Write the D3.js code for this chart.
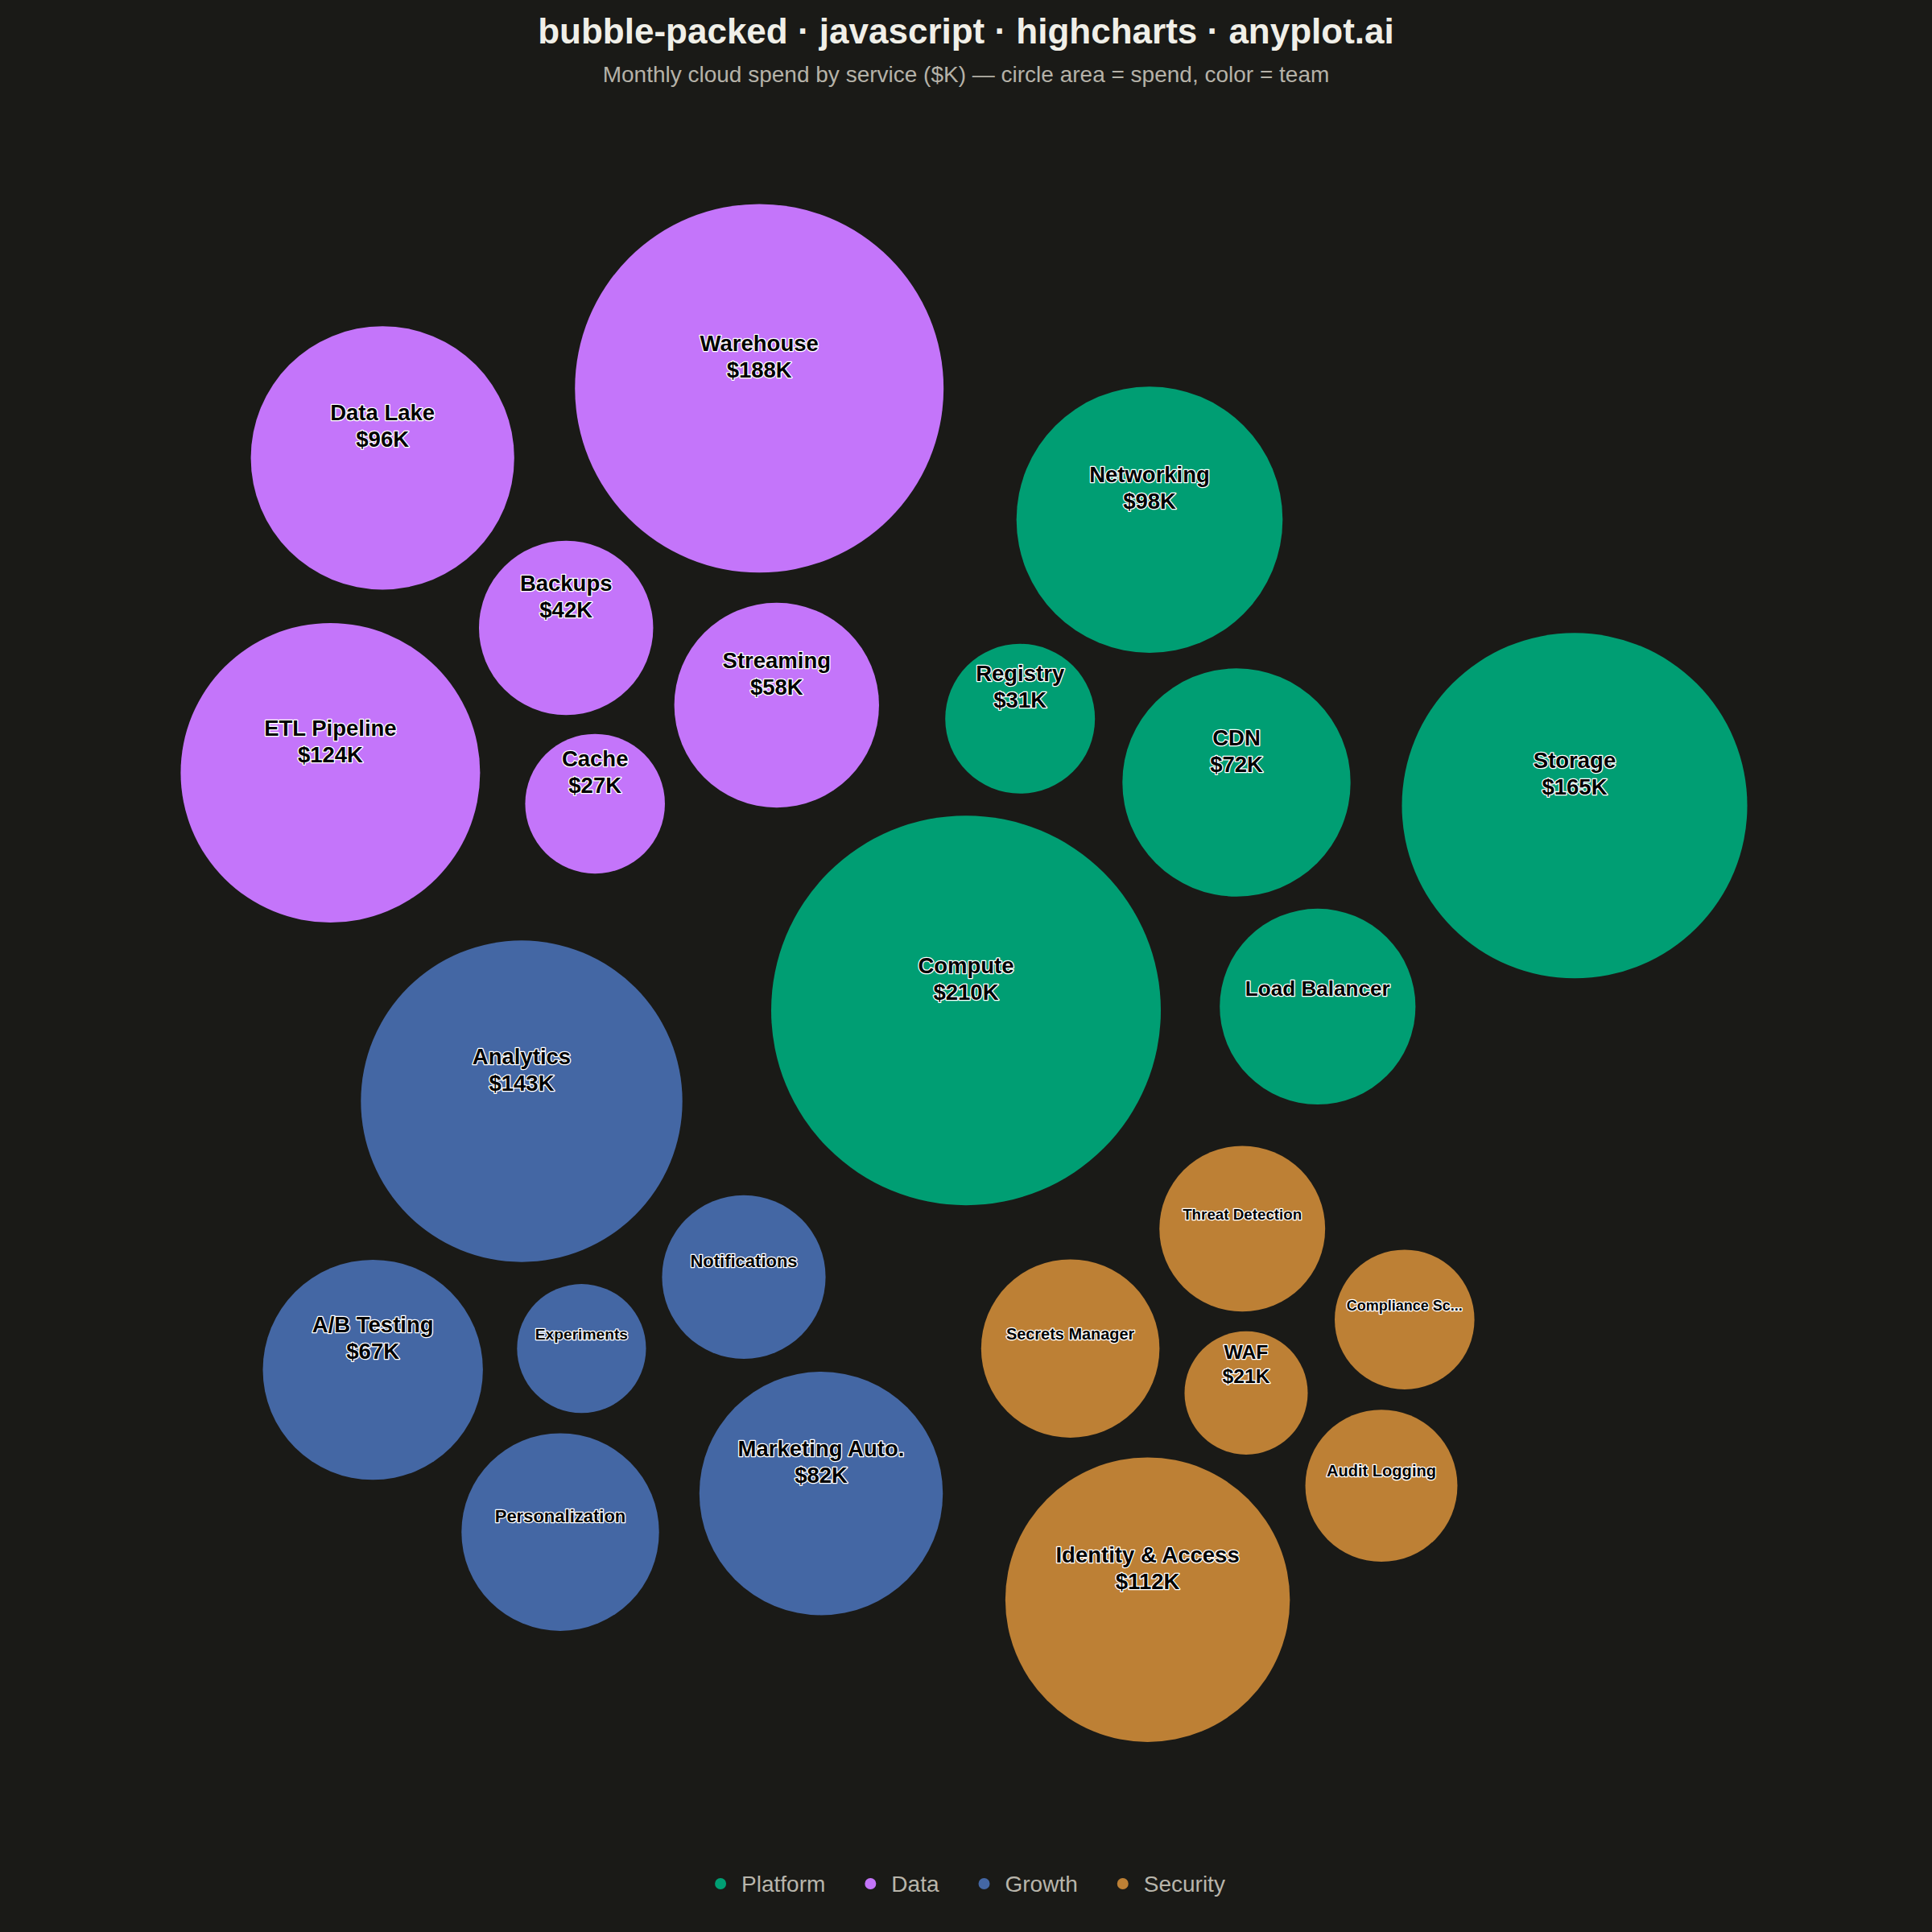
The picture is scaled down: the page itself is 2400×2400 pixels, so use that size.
<!DOCTYPE html>
<html>
<head>
<meta charset="utf-8">
<script src="https://cdn.jsdelivr.net/npm/d3@7"></script>
<style>
html, body { margin: 0; padding: 0; background: #1a1a17; }
svg { display: block; }
</style>
</head>
<body>
<svg id="chart" width="2400" height="2400"></svg>
<script>
// ---------------- DATA ----------------
const teams = ["Platform", "Data", "Growth", "Security"];
const teamColors = ["#009E73", "#C475FA", "#4467A4", "#BD8035"];

const services = [
  "Compute", "Storage", "Networking", "CDN", "Load Balancer", "Registry",
  "Warehouse", "ETL Pipeline", "Data Lake", "Streaming", "Backups", "Cache",
  "Analytics", "Marketing Auto.", "A/B Testing", "Personalization", "Notifications", "Experiments",
  "Identity & Access", "Secrets Manager", "Threat Detection", "Audit Logging", "Compliance Scanning", "WAF"
];
const serviceTeams = [
  "Platform", "Platform", "Platform", "Platform", "Platform", "Platform",
  "Data", "Data", "Data", "Data", "Data", "Data",
  "Growth", "Growth", "Growth", "Growth", "Growth", "Growth",
  "Security", "Security", "Security", "Security", "Security", "Security"
];
const spend = [
  210, 165, 98, 72, 53, 31,
  188, 124, 96, 58, 42, 27,
  143, 82, 67, 54, 37, 23,
  112, 44, 38, 32, 27, 21
];

// Packed-layout seeds (percent of canvas) – relaxed by a force simulation
const seedX = [
  50.0, 81.5, 59.5, 64.0, 68.2, 52.8,
  39.3, 17.1, 19.8, 40.2, 29.3, 30.8,
  27.0, 42.5, 19.3, 29.0, 38.5, 30.1,
  59.4, 55.4, 64.3, 71.5, 72.7, 64.5
];
const seedY = [
  52.3, 41.7, 26.9, 40.5, 52.1, 37.2,
  20.1, 40.0, 23.7, 36.5, 32.5, 41.6,
  57.0, 77.3, 70.9, 79.3, 66.1, 69.8,
  82.8, 69.8, 63.6, 76.9, 68.3, 72.1
];

const titleText = "bubble-packed · javascript · highcharts · anyplot.ai";
const subtitleText = "Monthly cloud spend by service ($K) — circle area = spend, color = team";

// ---------------- CHART ----------------
const W = 2400, H = 2400;
const FONT = "'Liberation Sans', Arial, Helvetica, sans-serif";
const svg = d3.select("#chart");

svg.append("rect").attr("width", W).attr("height", H).attr("fill", "#1a1a17");

const color = d3.scaleOrdinal().domain(teams).range(teamColors);
const rScale = d3.scaleSqrt().domain([0, 210]).range([0, 242]);
const sx = d3.scaleLinear().domain([0, 100]).range([0, W]);
const sy = d3.scaleLinear().domain([0, 100]).range([0, H]);

const nodes = services.map((name, i) => ({
  name, team: serviceTeams[i], value: spend[i], r: rScale(spend[i]),
  tx: sx(seedX[i]), ty: sy(seedY[i]), x: sx(seedX[i]), y: sy(seedY[i])
}));

const sim = d3.forceSimulation(nodes)
  .force("x", d3.forceX(d => d.tx).strength(0.4))
  .force("y", d3.forceY(d => d.ty).strength(0.4))
  .force("collide", d3.forceCollide(d => d.r + 3).iterations(3))
  .stop();
for (let i = 0; i < 300; i++) sim.tick();

// Title & subtitle
svg.append("text")
  .attr("x", W / 2).attr("y", 54)
  .attr("text-anchor", "middle")
  .attr("font-family", FONT).attr("font-weight", "bold").attr("font-size", 44)
  .attr("fill", "#f0efe8")
  .text(titleText);
svg.append("text")
  .attr("x", W / 2).attr("y", 102)
  .attr("text-anchor", "middle")
  .attr("font-family", FONT).attr("font-size", 28)
  .attr("fill", "#b5b2a8")
  .text(subtitleText);

// Bubbles
const g = svg.append("g");
g.selectAll("circle.bubble")
  .data(nodes)
  .join("circle")
  .attr("class", "bubble")
  .attr("cx", d => d.x).attr("cy", d => d.y).attr("r", d => d.r)
  .attr("fill", d => color(d.team));

// Label fitting
const meas = svg.append("text").attr("font-family", FONT).attr("font-weight", "bold")
  .attr("visibility", "hidden");
function textW(str, fs) {
  meas.attr("font-size", fs).text(str);
  return meas.node().getComputedTextLength();
}
const FULL_FS = 27.5;
nodes.forEach(d => {
  const full = d.value >= 60 || d.name.length <= 9;
  if (full) {
    d.lines = [d.name, "$" + d.value + "K"];
    d.fs = Math.min(FULL_FS, d.r / 3.1);
    return;
  }
  const em = textW(d.name, 100) / 100;
  const fit = 0.74 * 2 * d.r / em;
  if (fit >= 25.5) {
    d.fs = Math.min(FULL_FS, fit);
    d.lines = [d.name];
    return;
  }
  d.fs = Math.max(18, Math.min(22, 0.72 * 2 * d.r / em));
  let label = d.name;
  const maxW = 0.86 * 2 * d.r;
  if (textW(label, d.fs) > maxW) {
    let n = label.length;
    while (n > 1 && textW(label.slice(0, n).trimEnd() + "...", d.fs) > maxW) n--;
    label = label.slice(0, n).trimEnd() + "...";
  }
  d.lines = [label];
});
meas.remove();

const labels = g.selectAll("g.lbl").data(nodes).join("g").attr("class", "lbl");
labels.each(function(d) {
  const lh = d.fs * 1.2;
  const n = d.lines.length;
  const sel = d3.select(this);
  d.lines.forEach((line, i) => {
    const y = d.y - 6.5 - lh * (n - i - 0.5);
    sel.append("text")
      .attr("x", d.x).attr("y", y)
      .attr("text-anchor", "middle")
      .attr("dominant-baseline", "central")
      .attr("font-family", FONT).attr("font-weight", "bold").attr("font-size", d.fs)
      .attr("fill", "#000000")
      .attr("stroke", "#ffffff").attr("stroke-width", 2.6)
      .attr("stroke-linejoin", "round")
      .attr("paint-order", "stroke")
      .text(line);
  });
});

// Legend
const legend = svg.append("g");
const items = legend.selectAll("g.item").data(teams).join("g").attr("class", "item");
items.append("circle").attr("r", 7).attr("cx", 0).attr("cy", 0).attr("fill", d => color(d));
items.append("text")
  .attr("x", 26).attr("y", 0)
  .attr("dominant-baseline", "central")
  .attr("font-family", FONT).attr("font-size", 28)
  .attr("fill", "#b8b5ab")
  .text(d => d);
const widths = [];
items.each(function() { widths.push(d3.select(this).select("text").node().getComputedTextLength() + 26 + 7); });
const gap = 49;
const total = d3.sum(widths) + gap * (teams.length - 1);
let cursor = W / 2 - total / 2 + 12;
items.each(function(d, i) {
  d3.select(this).attr("transform", `translate(${cursor},2340)`);
  cursor += widths[i] + gap;
});
</script>
</body>
</html>
